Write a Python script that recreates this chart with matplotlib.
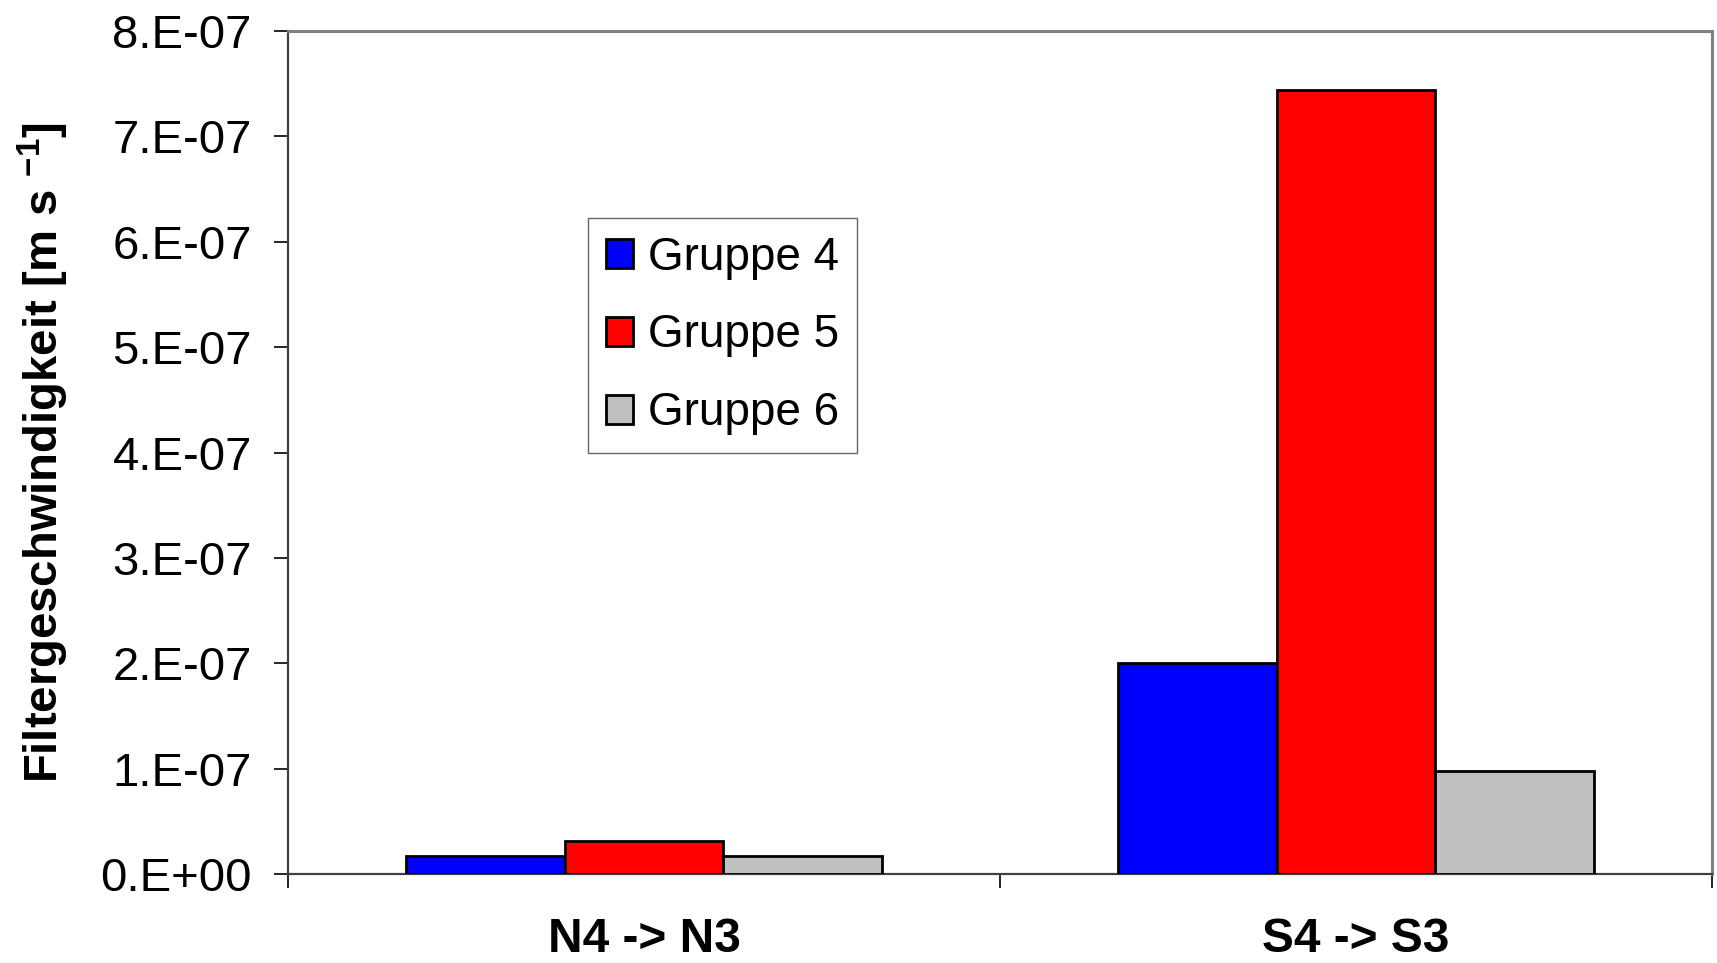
import numpy as np
import matplotlib
matplotlib.use('Agg')
import matplotlib.pyplot as plt
from matplotlib.patches import Patch

plt.rcParams['font.family'] = ['Liberation Sans', 'DejaVu Sans']
plt.rcParams['mathtext.fontset'] = 'custom'
plt.rcParams['mathtext.rm'] = 'Liberation Sans:bold'
plt.rcParams['mathtext.default'] = 'rm'

categories = ['N4 -> N3', 'S4 -> S3']
groups = ['Gruppe 4', 'Gruppe 5', 'Gruppe 6']
gruppe4 = [1.7e-08, 2.0e-07]
gruppe5 = [3.1e-08, 7.44e-07]
gruppe6 = [1.7e-08, 9.8e-08]
colors = ['#0000ff', '#ff0000', '#c0c0c0']
ytick_vals = [0, 1e-07, 2e-07, 3e-07, 4e-07, 5e-07, 6e-07, 7e-07, 8e-07]
ytick_labels = ['0.E+00', '1.E-07', '2.E-07', '3.E-07', '4.E-07',
                '5.E-07', '6.E-07', '7.E-07', '8.E-07']

fig = plt.figure(figsize=(17.17, 9.63), dpi=100, facecolor='white')
ax = fig.add_axes([0.1677, 0.0924, 0.8294, 0.8754])

x = np.arange(len(categories))
width = 0.223
series = [gruppe4, gruppe5, gruppe6]
for i, vals in enumerate(series):
    ax.bar(x + (i - 1) * width, vals, width, color=colors[i],
           edgecolor='black', linewidth=2.0, zorder=3)

ax.set_xlim(-0.5, 1.5)
ax.set_ylim(0, 8e-07)
ax.set_yticks(ytick_vals)
ax.set_yticklabels(ytick_labels, fontsize=34)
ax.tick_params(axis='y', length=10, width=1.2, pad=16, direction='out')

ax.set_xticks(x)
ax.set_xticklabels(categories, fontsize=34.5, fontweight='bold')
ax.set_xticks([-0.5, 0.5, 1.5], minor=True)
ax.tick_params(axis='x', which='major', length=0, pad=31)
ax.tick_params(axis='x', which='minor', length=10, width=1.2, direction='out')

for side in ['top', 'right']:
    ax.spines[side].set_color('#808080')
    ax.spines[side].set_linewidth(2.2)
ax.spines['left'].set_color('#404040')
ax.spines['left'].set_linewidth(1.6)
ax.spines['bottom'].set_color('#404040')
ax.spines['bottom'].set_linewidth(1.6)

ax.set_ylabel(r'Filtergeschwindigkeit [m s $^{-1}$]', fontsize=34, fontweight='bold')
ax.yaxis.set_label_coords(-0.152, 0.5)

handles = [Patch(facecolor=c, edgecolor='black', linewidth=2.0) for c in colors]
leg = ax.legend(handles, groups, loc='upper left', bbox_to_anchor=(0.211, 0.778),
                fontsize=33, frameon=True, fancybox=False, shadow=False,
                handlelength=0.6, handleheight=0.6, handletextpad=0.33,
                borderpad=0.38, labelspacing=0.74, borderaxespad=0)
leg.get_frame().set_edgecolor('#404040')
leg.get_frame().set_linewidth(1.0)

fig.savefig('out.png', dpi=100)
